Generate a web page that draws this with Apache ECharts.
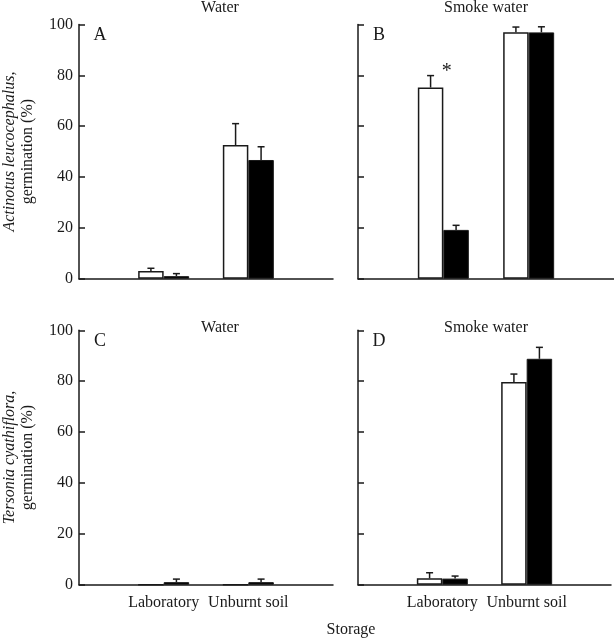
<!DOCTYPE html>
<html>
<head>
<meta charset="utf-8">
<script src="https://cdn.jsdelivr.net/npm/echarts@6/dist/echarts.min.js"></script>
<style>html,body{margin:0;padding:0;background:#fff}#c{width:614px;height:639px}</style>
</head>
<body>
<div id="c"></div>
<script>
// ---- data ----
const categories = ['Laboratory', 'Unburnt soil'];
const yTicks = [0, 20, 40, 60, 80, 100];
// Actinotus leucocephalus
const A_white = [3.0, 52.6];  const A_whiteErr = [1.1, 8.4];
const A_black = [1.0, 46.7];  const A_blackErr = [1.0, 5.2];
const B_white = [75.2, 97.0]; const B_whiteErr = [4.7, 2.0];
const B_black = [19.2, 96.9]; const B_blackErr = [1.8, 2.2];
// Tersonia cyathiflora
const C_white = [0, 0];       const C_whiteErr = [0, 0];
const C_black = [1.0, 1.0];   const C_blackErr = [1.2, 1.2];
const D_white = [2.5, 79.7];  const D_whiteErr = [2.2, 3.1];
const D_black = [2.4, 88.8];  const D_blackErr = [1.0, 4.5];
const sigB = [{x: 1.04, y: 81.5, text: '*'}];
const panelTitles = ['Water', 'Smoke water', 'Water', 'Smoke water'];
const panelLetters = ['A', 'B', 'C', 'D'];

const FONT = 'Liberation Serif';
const BW = 25.5;
const INK = '#1a1a1a';

const grids = [
  {left: 78, width: 255, top: 24.5, height: 254.2},
  {left: 358, width: 256, top: 24.5, height: 254.2},
  {left: 78, width: 255, top: 330.3, height: 254.4},
  {left: 358, width: 256, top: 330.3, height: 254.4}
];

const panels = [
  [A_white, A_whiteErr, A_black, A_blackErr],
  [B_white, B_whiteErr, B_black, B_blackErr],
  [C_white, C_whiteErr, C_black, C_blackErr],
  [D_white, D_whiteErr, D_black, D_blackErr]
];

const xAxes = grids.map((g, i) => ({
  type: 'value', gridIndex: i, min: 0, max: 3, interval: 1,
  axisLine: {show: true, lineStyle: {color: INK, width: 1.5}},
  axisTick: {show: false}, splitLine: {show: false},
  axisLabel: {
    show: i >= 2, margin: 10, fontFamily: FONT, fontSize: 16, color: INK,
    formatter: v => (v >= 1 && v <= categories.length) ? categories[v - 1] : ''
  }
}));

const yNames = [
  '{i|Actinotus leucocephalus,}\ngermination (%)', '',
  '{i|Tersonia cyathiflora,}\ngermination (%)', ''
];

const yAxes = grids.map((g, i) => ({
  type: 'value', gridIndex: i, min: 0, max: 100, interval: 20,
  axisLine: {show: true, lineStyle: {color: INK, width: 1.5}},
  axisTick: {show: true, inside: true, length: 6, lineStyle: {color: INK, width: 1.5}},
  splitLine: {show: false},
  axisLabel: {show: i % 2 === 0, margin: 6, fontFamily: FONT, fontSize: 16, color: INK,
    formatter: v => yTicks.includes(v) ? String(v) : ''},
  name: yNames[i], nameLocation: 'middle', nameGap: 42,
  nameTextStyle: {fontFamily: FONT, fontSize: 16, color: INK, lineHeight: 18,
    rich: {i: {fontFamily: FONT, fontSize: 16, fontStyle: 'italic', color: INK, lineHeight: 18}}}
}));

function errSeries(idx, vals, errs, side) {
  return {
    type: 'custom', xAxisIndex: idx, yAxisIndex: idx, z: 5,
    data: vals.map((v, k) => [k + 1, v, errs[k]]),
    renderItem: (params, api) => {
      const x = api.value(0), y = api.value(1), e = api.value(2);
      if (!e) return null;
      const p0 = api.coord([x, y]);
      const p1 = api.coord([x, y + e]);
      const cx = p0[0] + side * BW / 2;
      const st = {stroke: INK, lineWidth: 1.5};
      return {type: 'group', children: [
        {type: 'line', shape: {x1: cx, y1: p0[1], x2: cx, y2: p1[1]}, style: st},
        {type: 'line', shape: {x1: cx - 3.5, y1: p1[1], x2: cx + 3.5, y2: p1[1]}, style: st}
      ]};
    }
  };
}

const series = [];
panels.forEach((p, i) => {
  series.push({
    type: 'bar', xAxisIndex: i, yAxisIndex: i, barWidth: BW, barGap: '0%',
    data: p[0].map((v, k) => [k + 1, v]),
    itemStyle: {color: '#fff', borderColor: INK, borderWidth: 1.5}
  });
  series.push({
    type: 'bar', xAxisIndex: i, yAxisIndex: i, barWidth: BW, barGap: '0%',
    data: p[2].map((v, k) => [k + 1, v]),
    itemStyle: {color: '#000', borderColor: INK, borderWidth: 1}
  });
  series.push(errSeries(i, p[0], p[1], -1));
  series.push(errSeries(i, p[2], p[3], 1));
});
series.push({
  type: 'scatter', xAxisIndex: 1, yAxisIndex: 1, symbolSize: 1, itemStyle: {opacity: 0},
  data: sigB.map(s => [s.x, s.y]),
  label: {show: true, position: 'inside', formatter: p => sigB[p.dataIndex].text,
    fontFamily: FONT, fontSize: 20, color: INK, opacity: 1}
});

const titlePos = [[220, 8], [486, 8], [220, 328], [486, 328]];
const letterPos = [[100, 35], [379, 35], [100, 341], [379, 341]];
const graphics = [];
panelTitles.forEach((t, i) => graphics.push({type: 'text', x: titlePos[i][0], y: titlePos[i][1],
  style: {text: t, font: '16px "' + FONT + '"', fill: INK, textAlign: 'center', textVerticalAlign: 'middle'}}));
panelLetters.forEach((t, i) => graphics.push({type: 'text', x: letterPos[i][0], y: letterPos[i][1],
  style: {text: t, font: '18px "' + FONT + '"', fill: INK, textAlign: 'center', textVerticalAlign: 'middle'}}));
graphics.push({type: 'text', x: 351, y: 630,
  style: {text: 'Storage', font: '16px "' + FONT + '"', fill: INK, textAlign: 'center', textVerticalAlign: 'middle'}});

const chart = echarts.init(document.getElementById('c'), null, {renderer: 'canvas'});
chart.setOption({
  animation: false,
  backgroundColor: '#fff',
  grid: grids,
  xAxis: xAxes,
  yAxis: yAxes,
  series: series,
  graphic: graphics
});
</script>
</body>
</html>
